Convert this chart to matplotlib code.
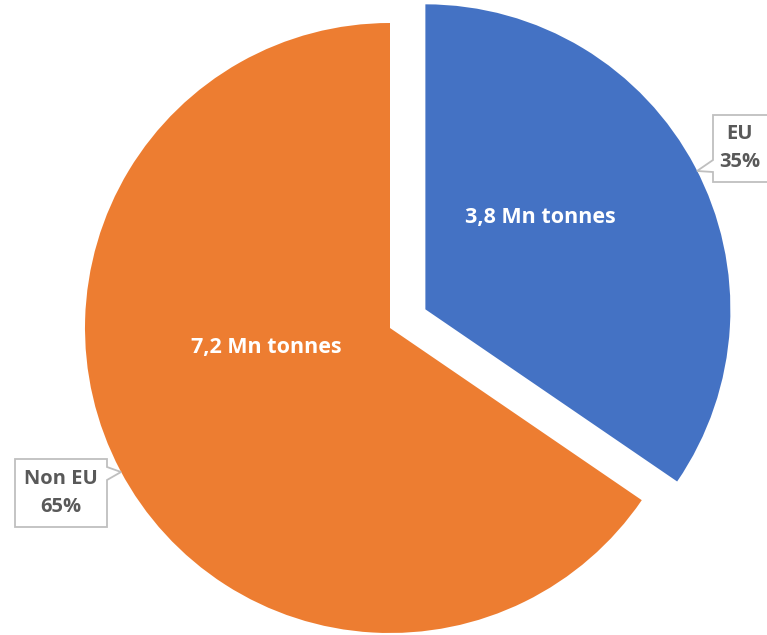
import matplotlib
matplotlib.use('Agg')
import matplotlib.pyplot as plt
from matplotlib.patches import Polygon

plt.rcParams['font.family'] = ['Open Sans', 'DejaVu Sans']

labels = ['EU', 'Non EU']
tonnes = [3.8, 7.2]
shares = ['35%', '65%']
colors = ['#4472C4', '#ED7D31']

W, H = 767, 635
fig = plt.figure(figsize=(W / 100, H / 100), dpi=100)
ax = fig.add_axes([0, 0, 1, 1])

# pie in pixel units, y measured upward
cx, cy, r = 390, H - 328, 305
wedges, _ = ax.pie(tonnes, colors=colors, startangle=90, counterclock=False,
                   explode=[40, 0], center=(cx, cy), radius=r,
                   wedgeprops=dict(linewidth=0))
ax.set_xlim(0, W)
ax.set_ylim(0, H)
ax.set_aspect('equal')
ax.axis('off')

# values inside the slices
fmt = lambda v: f'{v:.1f}'.replace('.', ',') + ' Mn tonnes'
ax.text(540, H - 217, fmt(tonnes[0]), color='white', fontsize=15.5,
        fontweight='bold', ha='center', va='center')
ax.text(266, H - 347, fmt(tonnes[1]), color='white', fontsize=15.5,
        fontweight='bold', ha='center', va='center')

# callout boxes
def callout(pts, text, tx, ty):
    poly = Polygon([(x, H - y) for x, y in pts], closed=True,
                   facecolor='white', edgecolor='#BFBFBF', linewidth=1.3)
    ax.add_patch(poly)
    ax.text(tx, H - ty, text, color='#595959', fontsize=14.5, fontweight='bold',
            ha='center', va='center', linespacing=1.55)

callout([(713, 115), (768, 115), (768, 182), (713, 182), (713, 172),
         (697, 171), (713, 160)], f'{labels[0]}\n{shares[0]}', 740, 148)
callout([(15, 459), (107, 459), (107, 467), (121, 472), (107, 480),
         (107, 527), (15, 527)], f'{labels[1]}\n{shares[1]}', 61, 493)

fig.savefig('out.png', dpi=100)
